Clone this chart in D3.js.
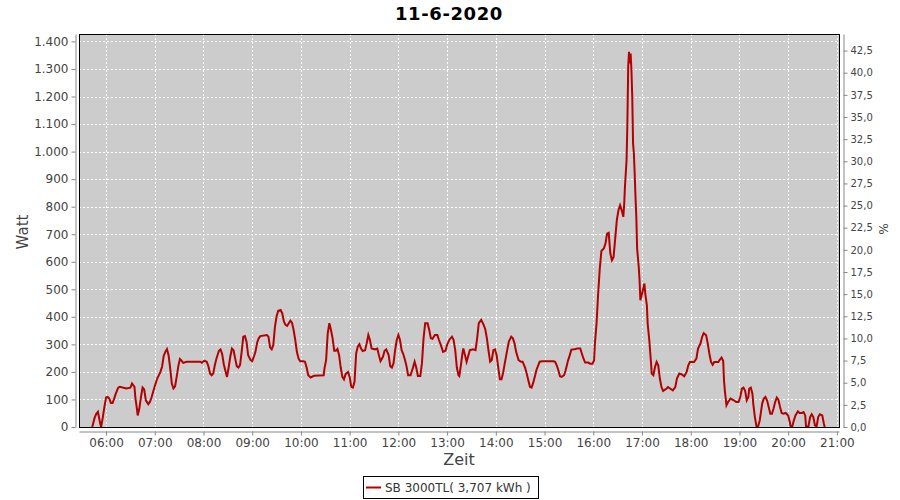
<!DOCTYPE html>
<html><head><meta charset="utf-8">
<script src="https://cdn.jsdelivr.net/npm/d3@7"></script>
<style>body{margin:0;background:#fff;} text{font-family:"DejaVu Sans",sans-serif;}</style>
</head><body>
<svg id="c" width="900" height="500"></svg>
<script>
const title = "11-6-2020";
const seriesName = "SB 3000TL( 3,707 kWh )";
const times = ["5:43","5:46","5:48","5:50","5:51","5:53","5:54","5:56","5:58","6:00","6:02","6:04","6:06","6:08","6:10","6:12","6:15","6:17","6:25","6:30","6:32","6:35","6:36","6:38","6:39","6:41","6:43","6:45","6:47","6:49","6:52","6:54","6:56","6:58","7:00","7:03","7:07","7:09","7:11","7:13","7:15","7:17","7:19","7:21","7:23","7:25","7:27","7:29","7:31","7:33","7:35","7:39","7:56","7:58","8:01","8:04","8:06","8:08","8:10","8:12","8:14","8:16","8:19","8:21","8:23","8:25","8:28","8:29","8:31","8:33","8:35","8:37","8:39","8:41","8:43","8:45","8:47","8:49","8:51","8:53","8:55","8:58","9:00","9:02","9:04","9:06","9:08","9:10","9:18","9:20","9:22","9:24","9:26","9:28","9:30","9:32","9:35","9:37","9:39","9:41","9:43","9:45","9:47","9:49","9:51","9:53","9:55","9:57","9:59","10:03","10:05","10:07","10:09","10:12","10:16","10:28","10:29","10:31","10:33","10:35","10:36","10:37","10:39","10:41","10:43","10:45","10:47","10:49","10:51","10:53","10:55","10:58","11:00","11:02","11:04","11:06","11:08","11:10","11:12","11:14","11:16","11:19","11:21","11:23","11:25","11:27","11:31","11:34","11:36","11:38","11:41","11:43","11:45","11:48","11:50","11:52","11:54","11:56","11:58","12:00","12:02","12:04","12:06","12:08","12:10","12:12","12:15","12:18","12:20","12:22","12:24","12:27","12:29","12:31","12:33","12:36","12:38","12:40","12:42","12:45","12:48","12:50","12:53","12:55","12:58","13:00","13:03","13:06","13:08","13:10","13:12","13:14","13:15","13:17","13:19","13:20","13:22","13:24","13:26","13:28","13:32","13:35","13:37","13:39","13:42","13:45","13:47","13:49","13:51","13:53","13:55","13:57","13:59","14:01","14:03","14:05","14:07","14:09","14:11","14:14","14:16","14:19","14:21","14:23","14:25","14:28","14:31","14:33","14:36","14:38","14:40","14:42","14:44","14:46","14:48","14:50","14:54","14:57","15:11","15:13","15:15","15:17","15:19","15:21","15:24","15:26","15:29","15:31","15:33","15:37","15:40","15:44","15:46","15:48","15:50","15:54","15:56","15:59","16:01","16:02","16:04","16:06","16:08","16:10","16:13","16:15","16:17","16:19","16:21","16:23","16:25","16:27","16:29","16:31","16:33","16:35","16:37","16:38","16:39","16:41","16:42","16:43","16:44","16:45","16:46","16:47","16:48","16:49","16:50","16:51","16:52","16:53","16:54","16:56","16:57","16:58","17:00","17:02","17:03","17:04","17:06","17:07","17:09","17:11","17:12","17:14","17:16","17:18","17:20","17:22","17:24","17:26","17:30","17:32","17:35","17:38","17:41","17:43","17:46","17:49","17:52","17:55","17:57","17:59","18:04","18:07","18:09","18:12","18:14","18:16","18:19","18:21","18:23","18:25","18:27","18:29","18:34","18:36","18:38","18:40","18:41","18:42","18:44","18:46","18:49","18:53","18:56","18:59","19:01","19:03","19:05","19:07","19:09","19:11","19:12","19:14","19:16","19:17","19:19","19:21","19:23","19:25","19:28","19:30","19:32","19:34","19:36","19:38","19:40","19:42","19:44","19:46","19:48","19:50","19:52","19:54","19:57","20:00","20:02","20:03","20:05","20:07","20:09","20:12","20:14","20:17","20:19","20:21","20:22","20:25","20:27","20:29","20:31","20:33","20:35","20:37","20:39","20:42","20:44","20:45"];
const watts = [0,34,48,55,40,10,0,35,73,107,109,103,87,87,103,121,143,146,140,143,158,146,109,67,42,67,109,143,136,97,83,91,107,128,148,176,200,219,258,273,283,261,213,158,140,148,182,221,247,241,233,237,237,233,241,237,221,194,188,194,225,249,277,282,265,228,192,182,216,255,285,279,249,221,216,225,273,328,330,310,261,243,239,255,273,306,322,330,334,328,289,282,298,364,401,422,425,413,383,371,367,377,386,379,352,316,273,249,239,239,237,216,188,180,186,188,213,243,340,377,365,352,322,277,277,283,261,216,182,173,192,200,182,146,143,164,267,292,301,285,276,279,304,334,316,285,282,285,261,239,255,277,282,261,221,216,231,279,316,334,316,279,265,245,221,188,188,216,237,216,185,185,231,322,377,377,352,322,320,334,334,316,292,273,277,298,318,328,316,279,216,188,185,225,270,285,261,237,258,279,282,279,322,377,389,371,355,322,277,237,243,279,282,261,216,173,173,197,231,279,310,328,322,304,273,243,237,237,216,194,170,146,143,160,182,207,237,239,239,237,224,206,184,182,188,206,242,260,281,282,285,285,266,248,234,234,230,230,242,303,375,484,575,639,648,666,702,705,630,605,617,684,751,787,805,787,763,805,872,969,1102,1308,1362,1320,1356,1295,1199,1029,993,920,835,763,648,581,533,460,484,508,521,484,442,375,315,236,194,188,218,236,224,176,145,131,139,145,139,133,145,176,194,191,184,200,224,236,236,248,285,303,327,341,333,303,266,236,226,236,236,245,252,240,169,133,79,91,103,97,91,91,109,139,143,131,97,109,139,143,121,85,36,2,2,24,85,103,109,97,73,48,48,67,91,107,99,73,51,48,51,42,18,2,2,24,42,57,51,51,54,42,2,2,36,46,36,6,2,36,46,42,12,0];
const hourTicks = ["06:00","07:00","08:00","09:00","10:00","11:00","12:00","13:00","14:00","15:00","16:00","17:00","18:00","19:00","20:00","21:00"];
const wattTicks = [0,100,200,300,400,500,600,700,800,900,1000,1100,1200,1300,1400];
const pctTicks = [0,2.5,5,7.5,10,12.5,15,17.5,20,22.5,25,27.5,30,32.5,35,37.5,40,42.5];

const toMin = s => { const [h,m] = s.split(":").map(Number); return h*60+m; };
const data = times.map((t,i) => ({t: toMin(t), w: watts[i]}));

const L = 79, R = 839, T = 34, B = 427;
const svg = d3.select("#c");
const x = d3.scaleLinear().domain([326.7, 1262.6]).range([L, R]);
const y = d3.scaleLinear().domain([0, 1427]).range([B, T]);
const y2 = d3.scaleLinear().domain([0, 44.37]).range([B, T]);
const loc = d3.formatLocale({decimal: ",", thousands: ".", grouping: [3], currency: ["", ""]});
const fW = loc.format(",d"), fP = loc.format(".1f");

svg.append("rect").attr("x", L).attr("y", T).attr("width", R-L).attr("height", B-T).attr("fill", "#cccccc");
const grid = svg.append("g").attr("stroke", "#fff").attr("stroke-width", 1).attr("stroke-dasharray", "2,2");
hourTicks.forEach(h => { const xx = Math.round(x(toMin(h))) + 0.5;
  grid.append("line").attr("x1", xx).attr("x2", xx).attr("y1", T).attr("y2", B); });
wattTicks.forEach(v => { const yy = Math.round(y(v)) + 0.5;
  grid.append("line").attr("x1", L).attr("x2", R).attr("y1", yy).attr("y2", yy); });

svg.append("clipPath").attr("id", "pc").append("rect").attr("x", L).attr("y", T).attr("width", R-L).attr("height", B-T);
svg.append("path").datum(data).attr("clip-path", "url(#pc)")
  .attr("fill", "none").attr("stroke", "#b40000").attr("stroke-width", 2).attr("stroke-linejoin", "miter")
  .attr("d", d3.line().x(d => x(d.t)).y(d => y(d.w)));

svg.append("rect").attr("x", L+0.5).attr("y", T+0.5).attr("width", R-L).attr("height", B-T)
  .attr("fill", "none").attr("stroke", "#000").attr("stroke-width", 1);

function styleAxis(g, fs) {
  g.selectAll("path").attr("stroke", "#888");
  g.selectAll("line").attr("stroke", "#888");
  g.selectAll("text").attr("fill", "#444").attr("font-size", fs).attr("font-family", "DejaVu Sans, sans-serif");
}
const gl = svg.append("g").attr("transform", `translate(75.5,0)`)
  .call(d3.axisLeft(y).tickValues(wattTicks).tickFormat(fW).tickSize(4).tickSizeOuter(0).tickPadding(3));
styleAxis(gl, "12px");
const gr = svg.append("g").attr("transform", `translate(843.5,0)`)
  .call(d3.axisRight(y2).tickValues(pctTicks).tickFormat(fP).tickSize(4).tickSizeOuter(0).tickPadding(3));
styleAxis(gr, "10px");
const gb = svg.append("g").attr("transform", `translate(0,431.5)`)
  .call(d3.axisBottom(x).tickValues(hourTicks.map(toMin)).tickFormat((d,i) => hourTicks[i]).tickSize(4).tickSizeOuter(0).tickPadding(3));
styleAxis(gb, "12px");

svg.append("text").attr("x", 449).attr("y", 20).attr("text-anchor", "middle")
  .attr("font-size", "18px").attr("font-weight", "bold").attr("letter-spacing", "0.6px").attr("fill", "#000").text(title);
svg.append("text").attr("transform", "translate(28,232) rotate(-90)").attr("text-anchor", "middle")
  .attr("font-size", "15px").attr("fill", "#444").text("Watt");
svg.append("text").attr("x", 459).attr("y", 465).attr("text-anchor", "middle")
  .attr("font-size", "16px").attr("fill", "#444").text("Zeit");
svg.append("text").attr("transform", "translate(879,229) rotate(90)").attr("text-anchor", "middle")
  .attr("font-size", "12px").attr("fill", "#444").text("%");

const lg = svg.append("g");
lg.append("rect").attr("x", 363.5).attr("y", 476.5).attr("width", 175).attr("height", 22).attr("fill", "#fff").attr("stroke", "#000");
lg.append("line").attr("x1", 366).attr("x2", 381).attr("y1", 487.5).attr("y2", 487.5).attr("stroke", "#b40000").attr("stroke-width", 2);
lg.append("text").attr("x", 385).attr("y", 492).attr("font-size", "12px").attr("fill", "#333").text(seriesName);
</script>
</body></html>
